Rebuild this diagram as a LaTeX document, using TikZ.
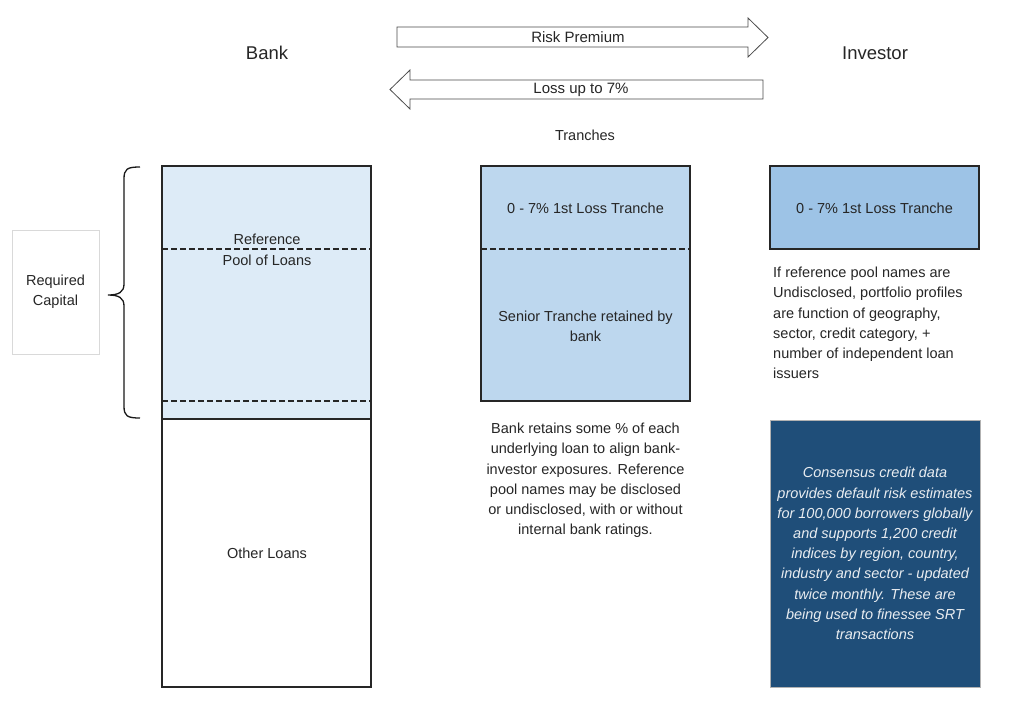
\documentclass[tikz,border=0pt]{standalone}
\usepackage{fontspec}
\setmainfont{Liberation Sans}
\definecolor{poolblue}{HTML}{DDEBF7}
\definecolor{tranblue}{HTML}{BDD7EE}
\definecolor{invblue}{HTML}{9DC3E6}
\definecolor{navy}{HTML}{1F4E79}
\definecolor{edge}{HTML}{262626}

\begin{document}
\begin{tikzpicture}[
  x=1pt, y=-1pt,
  every node/.style={inner sep=0pt, text=black!85, font=\fontsize{14.5}{20.2}\selectfont},
  box/.style={draw=edge, line width=1.2pt},
  cut/.style={draw=edge, line width=1.2pt, dash pattern=on 6pt off 3pt},
  flow/.style={draw=black!70, line width=0.8pt, fill=white},
  head/.style={font=\fontsize{18.5}{20}\selectfont},
  small/.style={font=\fontsize{15}{16}\selectfont}]
\useasboundingbox (0,0) rectangle (1024,710);
\fill[white] (0,0) rectangle (1024,710);

% column titles
\node[head] (bank) at (267,53) {Bank};
\node[head] (investor) at (875,53) {Investor};

% flow arrows
\draw[flow] (397,27) -- (748,27) -- (748,18) -- (768,37.5) -- (748,57) -- (748,47) -- (397,47) -- cycle;
\node[small] (premium) at (578,37.5) {Risk Premium};
\draw[flow] (763,80) -- (410,80) -- (410,70) -- (390,89.5) -- (410,109) -- (410,99) -- (763,99) -- cycle;
\node[small] (loss) at (581,89.5) {Loss up to 7\%};

\node (tranches) at (585,135) {Tranches};

% bank side
\draw[draw=black!15, line width=0.8pt] (12,230) rectangle (99,354);
\node[align=center] (capital) at (55.5,292) {Required\\Capital};
\draw[line width=1.3pt, draw=black!90]
  (140,167) .. controls (127,167) and (124,169) .. (124,179) -- (124,284)
  .. controls (124,292) and (119,295) .. (108,295)
  .. controls (119,295) and (124,298) .. (124,306) -- (124,406)
  .. controls (124,416) and (127,418) .. (140,418);
\draw[box, fill=poolblue] (162,166) rectangle (371,419);
\draw[box, fill=white] (162,419) rectangle (371,687);
\draw[cut] (162,249) -- (371,249);
\draw[cut] (162,401) -- (371,401);
\node (ref) at (267,239) {Reference};
\node (pool) at (267,260) {Pool of Loans};
\node (other) at (267,553) {Other Loans};

% tranches
\draw[box, fill=tranblue] (481,166) rectangle (690,401);
\draw[cut] (481,249) -- (690,249);
\node (first) at (585.5,208) {0 - 7\% 1st Loss Tranche};
\node[align=center] (senior) at (585.5,326) {Senior Tranche retained by\\bank};
\node[align=center] (retain) at (585.5,480.5) {Bank retains some \% of each\\underlying loan to align bank-\\investor exposures. Reference\\pool names may be disclosed\\or undisclosed, with or without\\internal bank ratings.};

% investor side
\draw[box, fill=invblue] (770,166) rectangle (979,249);
\node (invfirst) at (874.5,208) {0 - 7\% 1st Loss Tranche};
\node[align=left, anchor=north west] (names) at (773,267) {If reference pool names are\\Undisclosed, portfolio profiles\\are function of geography,\\sector, credit category, +\\number of independent loan\\issuers};
\draw[draw=black!30, line width=1pt, fill=navy] (770,420) rectangle (980,687);
\node[align=center, text=white!90!navy, font=\fontsize{14.5}{20.2}\selectfont\itshape] (consensus) at (875,553.5)
  {Consensus credit data\\provides default risk estimates\\for 100,000 borrowers globally\\and supports 1,200 credit\\indices by region, country,\\industry and sector - updated\\twice monthly. These are\\being used to finessee SRT\\transactions};
\end{tikzpicture}
\end{document}
